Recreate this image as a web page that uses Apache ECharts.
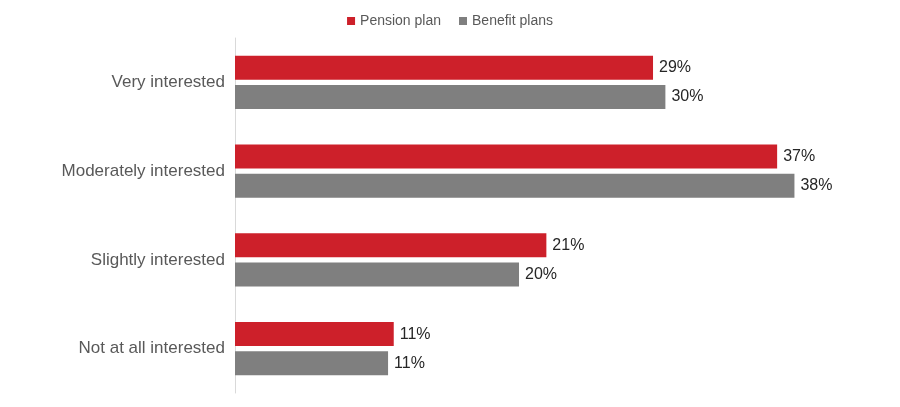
<!DOCTYPE html>
<html>
<head>
<meta charset="utf-8">
<script src="https://cdn.jsdelivr.net/npm/echarts@6/dist/echarts.min.js"></script>
<style>
html,body{margin:0;padding:0;background:#fff;}
#chart{width:900px;height:407px;}
</style>
</head>
<body>
<div id="chart"></div>
<script>
var categories = ['Very interested', 'Moderately interested', 'Slightly interested', 'Not at all interested'];
var seriesNames = ['Pension plan', 'Benefit plans'];
var pensionPlan = [28.73, 37.26, 21.40, 10.91];
var benefitPlans = [29.58, 38.45, 19.52, 10.52];

var FONT = '"Liberation Sans", Arial, sans-serif';
var chart = echarts.init(document.getElementById('chart'), null, {renderer: 'canvas'});
function lbl() {
  return {
    show: true, position: 'right', distance: 6,
    color: '#262626', fontSize: 16, fontFamily: FONT,
    formatter: function (p) { return Math.round(p.value) + '%'; }
  };
}
chart.setOption({
  animation: false,
  backgroundColor: '#ffffff',
  legend: {
    top: 9, left: 'center',
    itemWidth: 8, itemHeight: 8, itemGap: 18,
    icon: 'rect',
    textStyle: {color: '#595959', fontSize: 14, fontFamily: FONT},
    data: seriesNames
  },
  grid: {left: 235, top: 38, width: 582, height: 355},
  xAxis: {
    type: 'value', min: 0, max: 40,
    axisLine: {show: false}, axisTick: {show: false},
    axisLabel: {show: false}, splitLine: {show: false}
  },
  yAxis: {
    type: 'category', inverse: true, data: categories,
    axisLine: {show: true, lineStyle: {color: '#d9d9d9', width: 1}},
    axisTick: {show: false},
    axisLabel: {color: '#595959', fontSize: 17, fontFamily: FONT, margin: 10}
  },
  series: [
    {name: seriesNames[0], type: 'bar', data: pensionPlan, barWidth: 24, barGap: '21%',
     itemStyle: {color: '#cd202a'}, label: lbl()},
    {name: seriesNames[1], type: 'bar', data: benefitPlans, barWidth: 24, barGap: '21%',
     itemStyle: {color: '#7f7f7f'}, label: lbl()}
  ]
});
</script>
</body>
</html>
